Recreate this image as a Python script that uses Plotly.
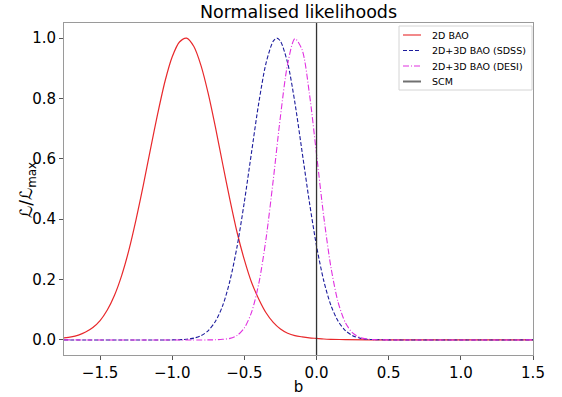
"""
Normalised likelihoods of b
"""

import plotly.graph_objects as go

# values
b_2d = [-1.75, -1.70, -1.65, -1.60, -1.55, -1.50, -1.45, -1.40, -1.35, -1.30,
        -1.25, -1.20, -1.15, -1.10, -1.05, -1.00, -0.95, -0.90, -0.85, -0.80,
        -0.75, -0.70, -0.65, -0.60, -0.55, -0.50, -0.45, -0.40, -0.35, -0.30,
        -0.25, -0.20, -0.15, -0.10, -0.05, 0.00, 0.05, 0.10, 0.20, 0.40, 1.50]
L_2d = [0.007, 0.010, 0.016, 0.026, 0.041, 0.064, 0.099, 0.148, 0.214, 0.298,
        0.400, 0.514, 0.634, 0.751, 0.857, 0.938, 0.987, 1.000, 0.972, 0.908,
        0.815, 0.703, 0.582, 0.464, 0.355, 0.265, 0.190, 0.135, 0.090, 0.058,
        0.036, 0.022, 0.014, 0.010, 0.007, 0.005, 0.003, 0.002, 0.001, 0.0, 0.0]

b_sdss = [-1.75, -1.00, -0.90, -0.85, -0.80, -0.75, -0.70, -0.65, -0.60, -0.55,
          -0.50, -0.45, -0.40, -0.35, -0.30, -0.275, -0.25, -0.20, -0.15, -0.10,
          -0.05, 0.00, 0.05, 0.10, 0.15, 0.20, 0.25, 0.30, 0.35, 0.40, 0.50, 1.50]
L_sdss = [0.0, 0.0, 0.002, 0.006, 0.014, 0.031, 0.062, 0.114, 0.196, 0.311,
          0.458, 0.623, 0.786, 0.917, 0.990, 1.000, 0.990, 0.917, 0.786, 0.623,
          0.458, 0.311, 0.196, 0.114, 0.062, 0.031, 0.014, 0.006, 0.002, 0.001, 0.0, 0.0]

b_desi = [-1.75, -0.75, -0.70, -0.65, -0.60, -0.55, -0.50, -0.45, -0.40, -0.35,
          -0.30, -0.25, -0.20, -0.15, -0.10, -0.05, 0.00, 0.05, 0.10, 0.15,
          0.20, 0.25, 0.30, 0.35, 0.40, 0.50, 1.50]
L_desi = [0.0, 0.0, 0.0004, 0.002, 0.005, 0.015, 0.040, 0.092, 0.187, 0.335,
          0.530, 0.741, 0.915, 0.998, 0.961, 0.818, 0.615, 0.409, 0.240, 0.124,
          0.057, 0.023, 0.008, 0.003, 0.001, 0.0, 0.0]

b_scm = 0.0

x_range = [-1.75, 1.5]
y_range = [-0.05, 1.05]
x_ticks = [-1.5, -1.0, -0.5, 0.0, 0.5, 1.0, 1.5]
y_ticks = [0.0, 0.2, 0.4, 0.6, 0.8, 1.0]

W, H = 562, 397
M = dict(l=64, r=29, t=23, b=42)
FONT = "DejaVu Sans"


def px(X):
    # pixel column -> paper fraction
    return (X - M["l"]) / (W - M["l"] - M["r"])


def py(Y):
    # pixel row -> paper fraction
    return 1 - (Y - M["t"]) / (H - M["t"] - M["b"])


fig = go.Figure()

fig.add_trace(go.Scatter(
    x=b_2d, y=L_2d, mode="lines", name="2D BAO",
    line=dict(color="#e8282b", width=1.2, shape="spline", smoothing=0.8),
))
fig.add_trace(go.Scatter(
    x=b_sdss, y=L_sdss, mode="lines", name="2D+3D BAO (SDSS)",
    line=dict(color="#1c1c9c", width=1.1, dash="4px,2px", shape="spline", smoothing=0.8),
))
fig.add_trace(go.Scatter(
    x=b_desi, y=L_desi, mode="lines", name="2D+3D BAO (DESI)",
    line=dict(color="#e030e0", width=1.1, dash="6px,2px,1px,2px", shape="spline", smoothing=0.8),
))
fig.add_trace(go.Scatter(
    x=[b_scm, b_scm], y=y_range, mode="lines", name="SCM",
    line=dict(color="#333333", width=1.3),
))

# matplotlib-like compact legend box, drawn by hand
shapes = [dict(
    type="rect", xref="paper", yref="paper",
    x0=px(399), x1=px(532), y0=py(90), y1=py(26),
    line=dict(color="#d4d4d4", width=1), fillcolor="white", layer="above",
)]
annotations = []
row_y = [35, 50.5, 66, 81.5]
for tr, Y in zip(fig.data, row_y):
    is_scm = tr.name == "SCM"
    shapes.append(dict(
        type="line", xref="paper", yref="paper",
        x0=px(403), x1=px(421), y0=py(Y), y1=py(Y),
        line=dict(color="#707070" if is_scm else tr.line.color,
                  width=2 if is_scm else 1.1,
                  dash=tr.line.dash or "solid"),
        layer="above",
    ))
    annotations.append(dict(
        text=tr.name, xref="paper", yref="paper", x=px(430), y=py(Y),
        xanchor="left", yanchor="middle", showarrow=False,
        font=dict(family=FONT, size=9.5, color="black"),
    ))

# y axis label
annotations.append(dict(
    text="ℒ/ℒ<sub>max</sub>", xref="paper", yref="paper", x=px(27), y=py(190),
    xanchor="center", yanchor="middle", textangle=-90, showarrow=False,
    font=dict(family=FONT, size=17, color="black"),
))

axis_style = dict(
    showgrid=False,
    zeroline=False,
    showline=True,
    linecolor="#9a9a9a",
    linewidth=1,
    mirror=True,
    ticks="outside",
    ticklen=4,
    tickcolor="#555555",
    tickformat=".1f",
    automargin=False,
    tickfont=dict(family=FONT, size=15, color="black"),
)

fig.update_xaxes(
    axis_style,
    range=x_range,
    tickvals=x_ticks,
    title=dict(text="b", font=dict(family=FONT, size=15, color="black"), standoff=0),
)
fig.update_yaxes(
    axis_style,
    range=y_range,
    tickvals=y_ticks,
)

fig.update_layout(
    width=W,
    height=H,
    template="plotly_white",
    paper_bgcolor="white",
    plot_bgcolor="white",
    margin=M,
    title=dict(
        text="Normalised likelihoods",
        x=298.5 / W,
        xanchor="center", y=1 - 12 / H, yanchor="middle",
        font=dict(family=FONT, size=17.5, color="black"),
    ),
    showlegend=False,
    shapes=shapes,
    annotations=annotations,
)

# drop the default body margin so the figure sits at the window's corner
fig.write_html(
    "out.html",
    config={"displayModeBar": False},
    post_script="document.body.style.margin='0px';",
)
